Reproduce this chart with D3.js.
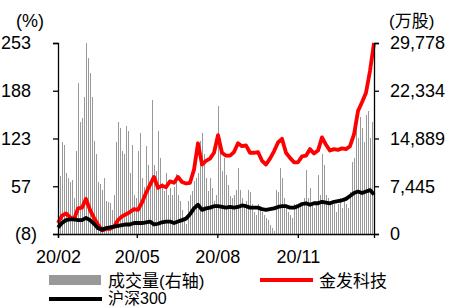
<!DOCTYPE html>
<html>
<head>
<meta charset="utf-8">
<script src="https://cdnjs.cloudflare.com/ajax/libs/d3/7.8.5/d3.min.js"></script>
<style>
  body { margin: 0; background: #fff; }
  text { font-family: "Liberation Sans", Arial, sans-serif; fill: #000; }
  .cjk { font-family: "Liberation Sans", "Noto Sans CJK SC", sans-serif; }
  .axis path, .axis line { stroke: #000; stroke-width: 1.3; }
</style>
</head>
<body>
<script>
// daily volume (万股), roughly one bar per 2px
var volume = [
  12100, 9000, 14300, 13800, 9500, 8700, 8100, 8400, 5600, 12900,
  23500, 17500, 18100, 21400, 29778, 27400, 25100, 21400, 14500, 12400,
  8100, 7800, 6900, 8800, 5100, 5000, 4800, 3800, 6100, 14300,
  17500, 16500, 12900, 12400, 16800, 16000, 9500, 13900, 6100, 5600,
  12900, 15700, 8700, 7400, 13700, 10800, 8200, 20900, 10800, 9800,
  16000, 11900, 8000, 6700, 9500, 6100, 7200, 6100, 7400, 9300,
  6100, 5100, 3800, 2500, 1500, 5100, 6100, 6700, 8200, 8700,
  9500, 14500, 15700, 12400, 8700, 6700, 8700, 7200, 5100, 6100,
  19900, 14900, 9800, 11800, 9200, 7700, 5900, 5600, 6100, 6900,
  10300, 6900, 5600, 4600, 5100, 6900, 6600, 4600, 3500, 3000,
  4600, 4000, 3500, 3000, 2500, 2200, 1400, 900, 400, 6900,
  6600, 10300, 8700, 5600, 4600, 3500, 3000, 2500, 4600, 4600,
  4100, 4600, 4600, 5600, 10000, 5600, 7200, 4600, 4100, 4600,
  9200, 6100, 12400, 10800, 6100, 5600, 4600, 5100, 4600, 3500,
  4600, 5600, 4100, 5100, 4600, 4100, 6600, 11300, 11800, 17500,
  14900, 18300, 16500, 14400, 18600, 19100, 14900, 17400
];

// cumulative return (%), sampled evenly across the period
var jinfa = [
  7, 17, 20, 15, 12, 27, 28, 40, 25, 14,
  5, -3, -1, -1, 2, 11, 16, 19, 22, 26,
  25, 35, 48, 59, 70, 55, 58, 56, 64, 62,
  70, 63, 61, 62, 80, 116, 87, 92, 95, 103,
  127, 103, 99, 99, 104, 116, 112, 113, 103, 103,
  104, 92, 87, 95, 105, 117, 122, 103, 96, 90,
  90, 98, 99, 108, 102, 106, 124, 114, 106, 108,
  107, 109, 108, 112, 128, 160, 172, 185, 215, 253
];
var hs300 = [
  1, 7, 11, 12, 12, 11, 11, 14, 11, 6,
  0, -2, 0, 1, 2, 3, 4, 5, 5, 7,
  7, 7, 8, 9, 5, 6, 8, 9, 9, 7,
  9, 11, 13, 19, 27, 32, 25, 27, 28, 30,
  30, 29, 28, 29, 28, 29, 31, 30, 28, 28,
  28, 26, 25, 26, 27, 29, 30, 30, 28, 28,
  30, 33, 34, 32, 34, 34, 36, 35, 34, 36,
  37, 38, 40, 44, 48, 50, 48, 50, 52, 46
];

var startDate = new Date(2020, 1, 3), endDate = new Date(2021, 0, 29);
var xTickDates = [new Date(2020, 1, 3), new Date(2020, 4, 3), new Date(2020, 7, 3), new Date(2020, 10, 3)];
var leftTicks = [-8, 57.25, 122.5, 187.75, 253];
var leftTickLabels = ["(8)", "57", "123", "188", "253"];
var rightTicks = [0, 7444.5, 14889, 22333.5, 29778];
var rightTickLabels = ["0", "7,445", "14,889", "22,334", "29,778"];

var margin = {top: 43, right: 75, bottom: 73, left: 58},
    width = 449 - margin.left - margin.right,
    height = 307 - margin.top - margin.bottom;

var root = d3.select("body").append("svg")
    .attr("width", 449)
    .attr("height", 307);

var svg = root.append("g")
    .attr("transform", "translate(" + margin.left + "," + margin.top + ")");

var x = d3.scaleTime().domain([startDate, endDate]).range([0, width]);
var xBar = d3.scaleLinear().domain([0, volume.length - 1]).range([0.7, width - 1.3]);
var xLine = d3.scaleLinear().domain([0, jinfa.length - 1]).range([0, width]);

var yLeft = d3.scaleLinear().domain([-8, 253]).range([height, 0]);
var yRight = d3.scaleLinear().domain([0, 29778]).range([height, 0]);

// bars first, lines on top
svg.append("g")
    .attr("shape-rendering", "crispEdges")
    .selectAll("rect")
    .data(volume)
    .enter()
    .append("rect")
    .attr("x", function (d, i) { return xBar(i) - 0.7; })
    .attr("width", 1.4)
    .attr("y", function (d) { return yRight(d); })
    .attr("height", function (d) { return height - yRight(d); })
    .attr("fill", "#999");

var line = d3.line()
    .x(function (d, i) { return xLine(i); })
    .y(function (d) { return yLeft(d); });

svg.append("path")
    .datum(jinfa)
    .attr("fill", "none")
    .attr("stroke", "#ff0000")
    .attr("stroke-width", 3.8)
    .attr("stroke-linejoin", "round")
    .attr("d", line);

svg.append("path")
    .datum(hs300)
    .attr("fill", "none")
    .attr("stroke", "#000")
    .attr("stroke-width", 3.8)
    .attr("stroke-linejoin", "round")
    .attr("d", line);

// axes
var leftAxis = svg.append("g")
    .attr("class", "axis")
    .call(d3.axisLeft(yLeft).tickValues(leftTicks).tickSize(5).tickPadding(16)
        .tickFormat(function (d, i) { return leftTickLabels[i]; }));
// positive labels leave room for the ")" like the number format does
leftAxis.selectAll(".tick text")
    .attr("dx", function (d) { return d < 0 ? 0 : -6; });

svg.append("g")
    .attr("class", "axis")
    .attr("transform", "translate(" + width + ",0)")
    .call(d3.axisRight(yRight).tickValues(rightTicks).tickSize(5).tickPadding(11)
        .tickFormat(function (d, i) { return rightTickLabels[i]; }));

svg.append("g")
    .attr("class", "axis")
    .attr("transform", "translate(0," + height + ")")
    .call(d3.axisBottom(x).tickValues(xTickDates).tickSize(4).tickPadding(12)
        .tickFormat(d3.timeFormat("%y/%m")));

svg.selectAll(".axis text")
    .style("font-size", "18px")
    .style("font-family", "'Liberation Sans', Arial, sans-serif");
svg.selectAll(".axis .domain").attr("stroke-width", 1.3);

// unit labels
root.append("text")
    .attr("x", 16).attr("y", 21)
    .attr("dy", "0.35em")
    .style("font-size", "18px")
    .text("(%)");

root.append("text")
    .attr("class", "cjk")
    .attr("x", 389).attr("y", 21)
    .attr("dy", "0.35em")
    .style("font-size", "17px")
    .text("(万股)");

// legend
var legend = root.append("g").style("font-size", "17px");

legend.append("rect")
    .attr("x", 49).attr("y", 275).attr("width", 52).attr("height", 10)
    .attr("fill", "#999");
legend.append("text")
    .attr("class", "cjk")
    .attr("x", 108).attr("y", 281).attr("dy", "0.35em")
    .text("成交量(右轴)");

legend.append("line")
    .attr("x1", 260).attr("x2", 313).attr("y1", 280).attr("y2", 280)
    .attr("stroke", "#ff0000").attr("stroke-width", 4);
legend.append("text")
    .attr("class", "cjk")
    .attr("x", 319).attr("y", 281).attr("dy", "0.35em")
    .text("金发科技");

legend.append("line")
    .attr("x1", 49).attr("x2", 102).attr("y1", 299).attr("y2", 299)
    .attr("stroke", "#000").attr("stroke-width", 4);
legend.append("text")
    .attr("class", "cjk")
    .attr("x", 108).attr("y", 298).attr("dy", "0.35em")
    .style("font-size", "16px")
    .text("沪深300");
</script>
</body>
</html>
